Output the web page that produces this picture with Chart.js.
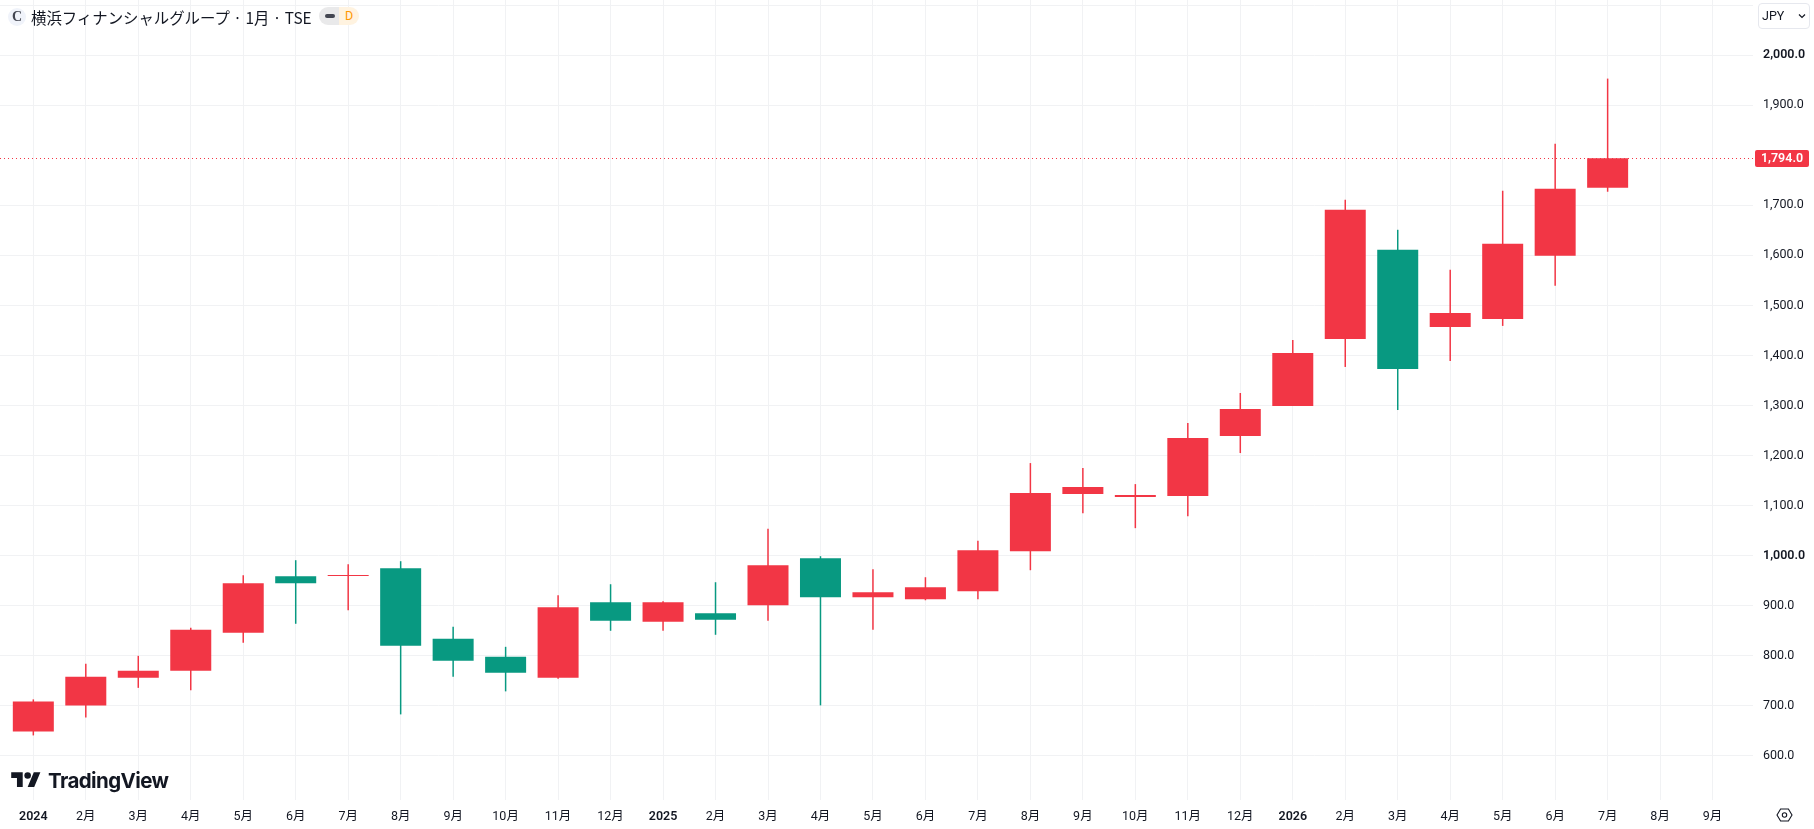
<!DOCTYPE html>
<html lang="ja">
<head>
<meta charset="utf-8">
<title>横浜フィナンシャルグループ</title>
<script src="https://cdn.jsdelivr.net/npm/chart.js@4/dist/chart.umd.min.js"></script>
<style>
  html, body { margin: 0; padding: 0; background: #fff; overflow: hidden; }
  #wrap { position: relative; width: 1814px; height: 829px; font-family: Roboto, "Noto Sans CJK JP", sans-serif; color: #131722; }
  #chart { position: absolute; left: 0; top: 0; }
  .abs { position: absolute; }
  #sym { left: 8px; top: 8px; width: 18px; height: 18px; border-radius: 50%; background: #f0f3fa; font: 700 14px/18px "Liberation Serif", serif; text-align: center; color: #434651; }
  #title { left: 31px; top: 6px; font: 15.4px/22px "Noto Sans CJK JP", sans-serif; white-space: nowrap; }
  #badge { left: 319px; top: 7px; width: 40px; height: 18px; border-radius: 9px; overflow: hidden; display: flex; }
  #badge .l { width: 20px; background: #e9e9ea; position: relative; }
  #badge .l i { position: absolute; left: 6px; top: 7px; width: 10px; height: 4px; border-radius: 2px; background: #434651; }
  #badge .r { width: 20px; background: #fff3e0; color: #ff9800; font: 12.5px/18px Roboto, sans-serif; text-align: center; }
  #cur { left: 1758px; top: 3px; width: 50px; height: 24px; border: 1px solid #e6e8ee; border-radius: 4px; background: #fff; font-size: 12.5px; line-height: 24px; }
  #cur span { position: absolute; left: 3px; }
  #cur svg { position: absolute; left: 39px; top: 9px; }
  #logo { left: 11px; top: 769px; }
  #brand { left: 48px; top: 768px; font: 700 20.5px/26px Inter, sans-serif; letter-spacing: -0.6px; color: #131722; white-space: nowrap; }
  #gear { left: 1776px; top: 808px; }
</style>
</head>
<body>
<div id="wrap">
  <canvas id="chart" width="1814" height="829"></canvas>
  <div class="abs" id="sym">C</div>
  <div class="abs" id="title">横浜フィナンシャルグループ · 1月 · TSE</div>
  <div class="abs" id="badge"><div class="l"><i></i></div><div class="r">D</div></div>
  <div class="abs" id="cur"><span>JPY</span><svg width="8" height="6" viewBox="0 0 8 6"><path d="M1 1.5 L4 4.5 L7 1.5" fill="none" stroke="#131722" stroke-width="1.2"/></svg></div>
  <svg class="abs" id="logo" width="30" height="23" viewBox="0 0 36 28"><path d="M14 22H7V11H0V4h14v18zM28 22h-8l7.5-18h8L28 22z" fill="#131722"/><circle cx="20" cy="8" r="4" fill="#131722"/></svg>
  <div class="abs" id="brand">TradingView</div>
  <svg class="abs" id="gear" width="17" height="14" viewBox="0 0 17 14"><path d="M1 7 L4.6 1 H12.4 L16 7 L12.4 13 H4.6 Z" fill="none" stroke="#131722" stroke-width="1.1"/><circle cx="8.5" cy="7" r="2.2" fill="none" stroke="#131722" stroke-width="1.1"/></svg>
</div>
<script>
// monthly bars, 2024-01 to 2026-07, two empty months on the right
const xLabels = ['2024','2月','3月','4月','5月','6月','7月','8月','9月','10月','11月','12月',
  '2025','2月','3月','4月','5月','6月','7月','8月','9月','10月','11月','12月',
  '2026','2月','3月','4月','5月','6月','7月','8月','9月'];
const opens  = [649,701,756,770,846,959,959.5,975,834,798,756,907,868,885,901,995,917,913,929,1009,1123,1117,1119,1239,1299,1433,1611,1457,1473,1599,1735];
const closes = [709,758,770,852,945,945,961.5,820,790,766,897,870,907,872,981,917,927,937,1011,1125,1137,1121,1235,1293,1405,1691,1373,1485,1623,1733,1794];
const highs  = [713,784,800,856,961,991,983,989,858,818,921,943,909,947,1054,999,973,957,1030,1185,1175,1143,1265,1325,1431,1711,1651,1571,1729,1823,1953];
const lows   = [641,677,736,731,826,864,891,683,758,729,754,850,850,842,870,701,852,911,913,971,1085,1055,1079,1205,1299,1377,1291,1389,1459,1539,1727];
// 1800 is left out, the last-price tag sits there
const yTicks = [600,700,800,900,1000,1100,1200,1300,1400,1500,1600,1700,1900,2000,2100];
const lastPrice = 1794;

const RED = '#f23645';
const GREEN = '#089981';
const GRID = '#f1f2f4';
const candleColors = opens.map((o, i) => closes[i] >= o ? RED : GREEN);

// dotted price line and the tag on the axis
const pricePlugin = {
  id: 'priceLine',
  beforeDatasetsDraw(chart) {
    const { ctx, chartArea, scales } = chart;
    const y = Math.round(scales.y.getPixelForValue(lastPrice)) + 0.5;
    ctx.save();
    ctx.strokeStyle = RED;
    ctx.lineWidth = 1;
    ctx.setLineDash([1, 3]);
    ctx.beginPath();
    ctx.moveTo(chartArea.left, y);
    ctx.lineTo(chartArea.right, y);
    ctx.stroke();
    ctx.restore();
  },
  afterDraw(chart) {
    const { ctx, scales } = chart;
    const y = Math.round(scales.y.getPixelForValue(lastPrice));
    ctx.save();
    ctx.fillStyle = RED;
    ctx.beginPath();
    ctx.roundRect(1755, y - 8, 54, 17, 2);
    ctx.fill();
    ctx.fillStyle = '#fff';
    ctx.font = '600 12.5px Roboto, sans-serif';
    ctx.textAlign = 'center';
    ctx.textBaseline = 'middle';
    ctx.fillText(lastPrice.toLocaleString('en-US', { minimumFractionDigits: 1 }), 1782, y + 1);
    ctx.restore();
  }
};

new Chart(document.getElementById('chart'), {
  type: 'bar',
  data: {
    datasets: [
      {
        label: 'wick',
        data: highs.map((h, i) => ({ x: i, y: [lows[i], h] })),
        backgroundColor: candleColors,
        barThickness: 1.5,
        inflateAmount: 0,
        grouped: false,
        order: 2
      },
      {
        label: 'body',
        data: opens.map((o, i) => ({ x: i, y: [o, closes[i]] })),
        backgroundColor: candleColors,
        barThickness: 41,
        inflateAmount: 0,
        grouped: false,
        order: 1
      }
    ]
  },
  options: {
    responsive: false,
    animation: false,
    layout: { padding: 0 },
    plugins: { legend: { display: false }, tooltip: { enabled: false } },
    scales: {
      x: {
        type: 'linear',
        offset: false,
        min: -0.635,
        max: 32.77,
        afterBuildTicks: axis => { axis.ticks = xLabels.map((_, i) => ({ value: i })); },
        // keep the plot flush with the left edge
        afterFit: axis => { axis.height = 29; axis.paddingLeft = 0; axis.paddingRight = 0; },
        grid: { color: GRID, drawTicks: false, offset: false },
        border: { display: false },
        ticks: {
          autoSkip: false,
          maxRotation: 0,
          padding: 9,
          color: '#131722',
          font: ctx => ({
            family: 'Roboto, "Noto Sans CJK JP", sans-serif',
            size: 12.5,
            weight: ctx.tick && /^\d{4}$/.test(xLabels[ctx.tick.value]) ? '600' : '400'
          }),
          callback: v => xLabels[v]
        }
      },
      y: {
        position: 'right',
        min: 512,
        max: 2110,
        afterBuildTicks: axis => { axis.ticks = yTicks.map(v => ({ value: v })); },
        afterFit: axis => { axis.width = 61; axis.paddingTop = 0; axis.paddingBottom = 0; },
        grid: { color: GRID, drawTicks: false },
        border: { display: false },
        ticks: {
          padding: 10,
          color: '#131722',
          font: ctx => ({
            family: 'Roboto, sans-serif',
            size: 12.5,
            weight: ctx.tick && ctx.tick.value % 1000 === 0 ? '600' : '400'
          }),
          callback: v => v === 2100 ? '' : v.toLocaleString('en-US', { minimumFractionDigits: 1 })
        }
      }
    }
  },
  plugins: [pricePlugin]
});
</script>
</body>
</html>
